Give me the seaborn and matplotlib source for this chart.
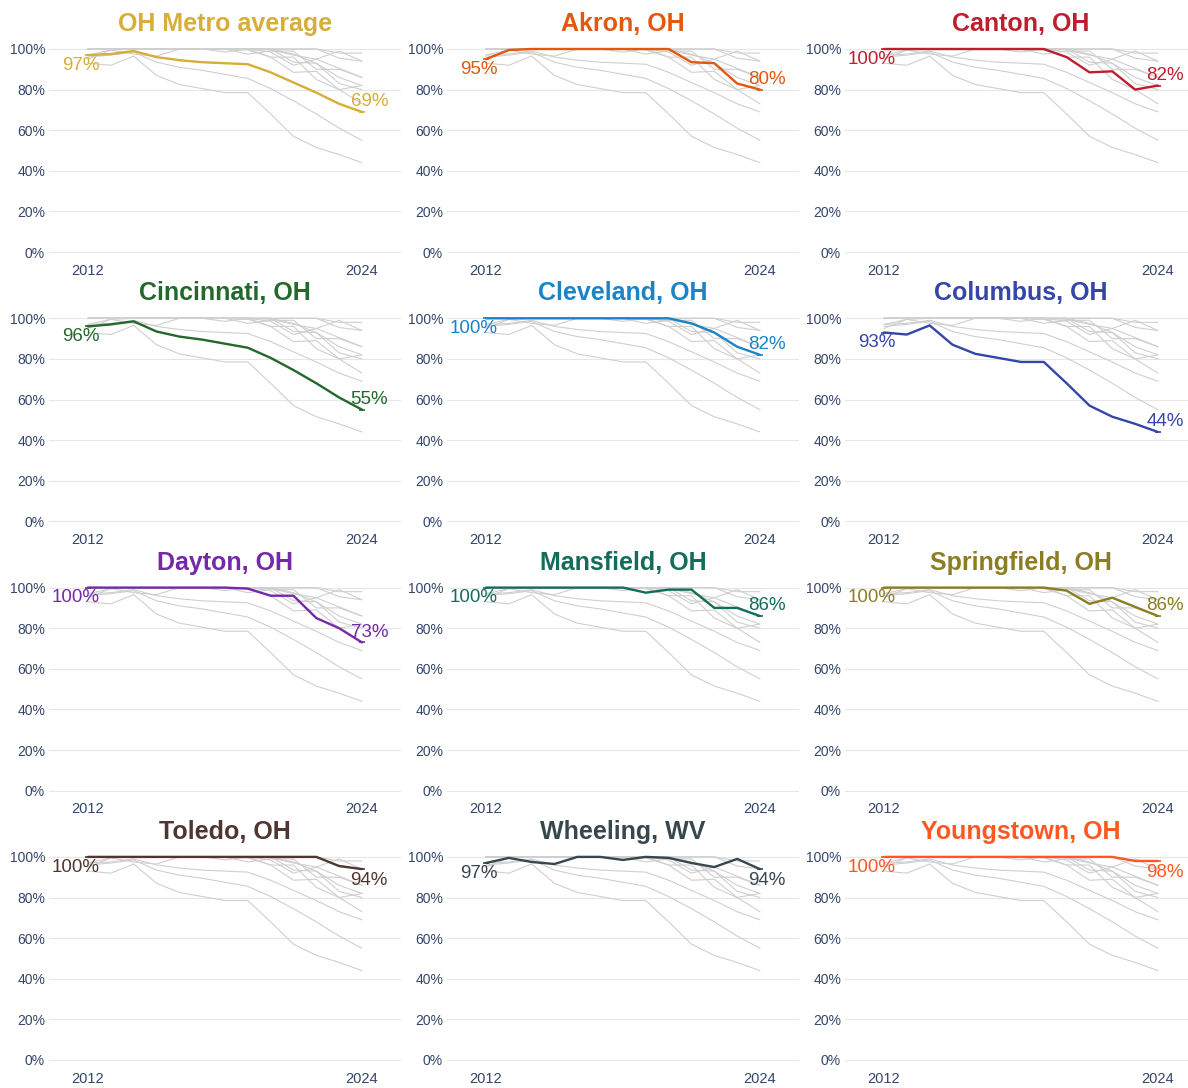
import pandas as pd
import matplotlib
matplotlib.use("Agg")
import matplotlib.pyplot as plt
import seaborn as sns

# ---- data (share of something, %, 2012-2024) ----
years = [2012, 2013, 2014, 2015, 2016, 2017, 2018, 2019, 2020, 2021, 2022, 2023, 2024]

metros = ["OH Metro average", "Akron, OH", "Canton, OH",
          "Cincinnati, OH", "Cleveland, OH", "Columbus, OH",
          "Dayton, OH", "Mansfield, OH", "Springfield, OH",
          "Toledo, OH", "Wheeling, WV", "Youngstown, OH"]

oh_average = [97, 97.5, 99, 96, 94.5, 93.5, 93, 92.5, 88.5, 83.5, 78.5, 73, 69]
akron = [95, 99.5, 100, 100, 100, 100, 100, 100, 100, 93.5, 93, 83, 80]
canton = [100, 100, 100, 100, 100, 100, 100, 100, 96, 88.5, 89, 80, 82]
cincinnati = [96, 97, 98.5, 93.5, 91, 89.5, 87.5, 85.5, 80.5, 74.5, 68, 61, 55]
cleveland = [100, 100, 100, 100, 100, 100, 100, 100, 100, 97.5, 93, 86, 82]
columbus = [93, 92, 96.5, 87, 82.5, 80.5, 78.5, 78.5, 68, 57, 51.5, 48, 44]
dayton = [100, 100, 100, 100, 100, 100, 100, 99.5, 96, 96, 85, 80, 73]
mansfield = [100, 100, 100, 100, 100, 100, 100, 97.5, 99, 99, 90, 90, 86]
springfield = [100, 100, 100, 100, 100, 100, 100, 100, 98.5, 92, 95, 90.5, 86]
toledo = [100, 100, 100, 100, 100, 100, 100, 100, 100, 100, 100, 95.5, 94]
wheeling = [97, 99.5, 97.5, 96.5, 100, 100, 98.5, 100, 99.5, 97, 95, 99, 94]
youngstown = [100, 100, 100, 100, 100, 100, 100, 100, 100, 100, 100, 98, 98]

series = [oh_average, akron, canton, cincinnati, cleveland, columbus,
          dayton, mansfield, springfield, toledo, wheeling, youngstown]

colors = ["#D6AE38", "#E4570F", "#BF1E2E", "#22692B", "#1A84C7", "#3546A8",
          "#7528A8", "#146D5A", "#8A7D22", "#503631", "#37474F", "#FF5722"]

rows = []
for m, vals in zip(metros, series):
    for y, v in zip(years, vals):
        rows.append({"metro": m, "year": y, "value": v})
df = pd.DataFrame(rows)

# ---- style ----
sns.set_theme(style="white")
plt.rcParams["font.family"] = ["Liberation Sans", "DejaVu Sans"]
tick_color = "#34456B"

W, H = 1188, 1088
fig = plt.figure(figsize=(W / 100, H / 100), dpi=100)

px_per_year = 22.83
px_per_pct = 2.03
xmin, xmax = 2010.3, 2025.7
ymin, ymax = -2, 103

for i, (m, c) in enumerate(zip(metros, colors)):
    r, col = divmod(i, 3)
    left_px = 88 - (2012 - xmin) * px_per_year + 398 * col
    width_px = (xmax - xmin) * px_per_year
    bottom_px = 252 + 269.3 * r - ymin * px_per_pct
    height_px = (ymax - ymin) * px_per_pct
    ax = fig.add_axes([left_px / W, 1 - bottom_px / H, width_px / W, height_px / H])

    # all metros in light grey
    sns.lineplot(data=df, x="year", y="value", units="metro", estimator=None,
                 color="#CFCFCF", linewidth=0.8, ax=ax, legend=False)

    # highlighted metro
    sub = df[df["metro"] == m]
    sns.lineplot(data=sub, x="year", y="value", color=c, linewidth=1.7,
                 ax=ax, legend=False)
    first = sub.iloc[0]
    last = sub.iloc[-1]
    ax.scatter([first["year"], last["year"]], [first["value"], last["value"]],
               marker="_", s=18, color=c, linewidths=1.2, zorder=5)

    ax.text(first["year"] + 0.5, first["value"] - 5, f"{round(first['value'])}%",
            ha="right", va="center", color=c, fontsize=13.5, zorder=6)
    off = 5 if last["value"] < 90 else -5.5
    ax.text(last["year"] - 0.5, last["value"] + off, f"{round(last['value'])}%",
            ha="left", va="center", color=c, fontsize=13.5, zorder=6)

    ax.set_title(m, color=c, fontsize=18, fontweight="bold", pad=8.5)
    ax.set_xlim(xmin, xmax)
    ax.set_ylim(ymin, ymax)
    ax.set_xticks([2012, 2024])
    ax.set_xticklabels(["2012", "2024"])
    ax.set_yticks([0, 20, 40, 60, 80, 100])
    ax.set_yticklabels([f"{t}%" for t in [0, 20, 40, 60, 80, 100]])
    ax.tick_params(axis="y", length=0, pad=3, labelsize=10, labelcolor=tick_color)
    ax.tick_params(axis="x", length=0, pad=5.5, labelsize=10.5, labelcolor=tick_color)
    ax.yaxis.grid(True, color="#E6E6E6", linewidth=0.8)
    ax.xaxis.grid(False)
    ax.set_axisbelow(True)
    ax.set_xlabel("")
    ax.set_ylabel("")
    for s in ax.spines.values():
        s.set_visible(False)

fig.savefig("out.png", dpi=100, facecolor="white")
